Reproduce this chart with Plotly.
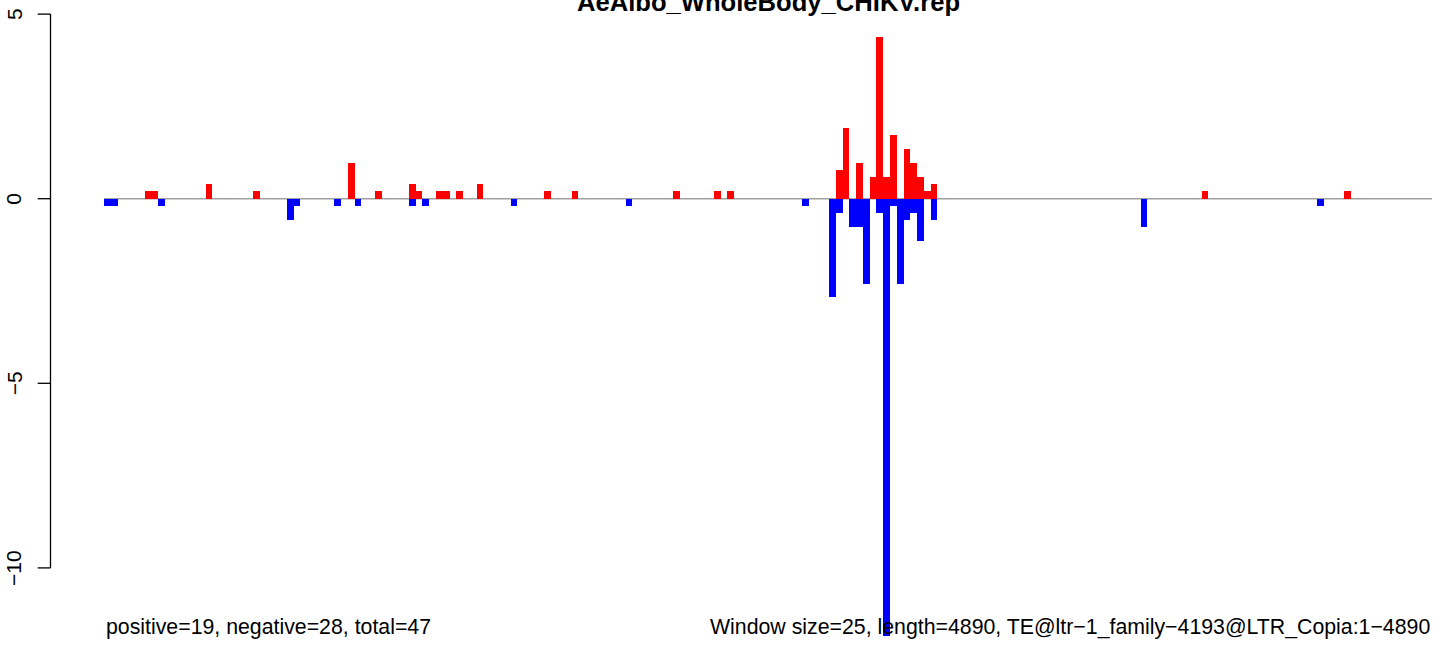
import plotly.graph_objects as go

# ---- data ----
title_text = "AeAlbo_WholeBody_CHIKV.rep"
n_windows = 196  # length 4890 / window 25

positive_bins = [6, 7, 15, 22, 36, 40, 45, 46, 49, 50, 52, 55, 65, 69, 84, 90, 92,
                 108, 109, 111, 113, 114, 115, 116, 118, 119, 120, 121, 122, 162, 183]
positive_values = [0.2, 0.2, 0.4, 0.2, 0.97, 0.2, 0.4, 0.2, 0.2, 0.2, 0.2, 0.4, 0.2, 0.2, 0.2, 0.2, 0.2,
                   0.78, 1.92, 0.97, 0.59, 4.39, 0.59, 1.73, 1.35, 0.97, 0.59, 0.21, 0.40, 0.2, 0.2]

negative_bins = [0, 1, 8, 27, 28, 34, 37, 45, 47, 60, 77, 103,
                 107, 108, 110, 111, 112, 114, 115, 116, 117, 118, 119, 120, 122, 153, 179]
negative_values = [-0.2, -0.2, -0.2, -0.57, -0.2, -0.2, -0.2, -0.2, -0.2, -0.2, -0.2, -0.2,
                   -2.67, -0.38, -0.76, -0.76, -2.30, -0.38, -11.84, -0.19, -2.30, -0.57, -0.38, -1.14,
                   -0.57, -0.76, -0.2]

y_ticks = [5, 0, -5, -10]
y_tick_labels = ["5", "0", "\u22125", "\u221210"]

left_note = "positive=19, negative=28, total=47"
right_note = "Window size=25, length=4890, TE@ltr\u22121_family\u22124193@LTR_Copia:1\u22124890"

# ---- layout geometry (pixels) ----
W, H = 1444, 646
plot_left, plot_right = 104, 1432
plot_w = plot_right - plot_left
px_per_unit = 36.92
zero_px = 198.7
y_top = zero_px / px_per_unit
y_bottom = -(H - zero_px) / px_per_unit

FONT = "Liberation Sans, Arial, Helvetica, sans-serif"


def xpaper(px):
    return (px - plot_left) / plot_w


def ypaper(py):
    return 1 - py / H


fig = go.Figure()
fig.add_trace(go.Bar(x=positive_bins, y=positive_values, width=1.0,
                     marker=dict(color="#FF0000", line=dict(width=0)), showlegend=False,
                     cliponaxis=False))
fig.add_trace(go.Bar(x=negative_bins, y=negative_values, width=1.0,
                     marker=dict(color="#0000FF", line=dict(width=0)), showlegend=False,
                     cliponaxis=False))

shapes = []
# zero line
shapes.append(dict(type="line", xref="paper", yref="y", x0=0, x1=1, y0=0, y1=0,
                   line=dict(color="#A0A0A0", width=1.5), layer="below"))
# y axis line and ticks (R style, offset from plot)
ax_x = xpaper(50.5)
tick_x = xpaper(37.7)
shapes.append(dict(type="line", xref="paper", yref="y", x0=ax_x, x1=ax_x,
                   y0=min(y_ticks), y1=max(y_ticks), line=dict(color="black", width=1.3)))
for t in y_ticks:
    shapes.append(dict(type="line", xref="paper", yref="y", x0=tick_x, x1=ax_x,
                       y0=t, y1=t, line=dict(color="black", width=1.3)))

annotations = []
for t, lab in zip(y_ticks, y_tick_labels):
    annotations.append(dict(x=xpaper(14), y=t, xref="paper", yref="y", text=lab,
                            textangle=-90, showarrow=False, xanchor="center", yanchor="middle",
                            font=dict(family=FONT, size=21, color="black")))
annotations.append(dict(x=xpaper(768), y=ypaper(2), xref="paper", yref="paper",
                        text="<b>" + title_text + "</b>", showarrow=False,
                        xanchor="center", yanchor="middle",
                        font=dict(family=FONT, size=25.6, color="black")))
annotations.append(dict(x=0, y=ypaper(627), xref="paper", yref="paper", text=left_note,
                        showarrow=False, xanchor="left", yanchor="middle",
                        bgcolor="rgba(0,0,0,0)",
                        font=dict(family=FONT, size=21.3, color="black")))
annotations.append(dict(x=1, y=ypaper(627), xref="paper", yref="paper", text=right_note,
                        showarrow=False, xanchor="right", yanchor="middle",
                        bgcolor="rgba(0,0,0,0)",
                        font=dict(family=FONT, size=21.3, color="black")))

fig.update_layout(
    width=W, height=H,
    margin=dict(l=plot_left, r=W - plot_right, t=0, b=0, pad=0),
    paper_bgcolor="white", plot_bgcolor="white",
    barmode="overlay", bargap=0,
    xaxis=dict(range=[-0.5, n_windows - 0.5], visible=False, fixedrange=True),
    yaxis=dict(range=[y_bottom, y_top], visible=False, fixedrange=True),
    shapes=shapes, annotations=annotations,
)

fig.write_html(
    "out.html",
    config={"displayModeBar": False},
    post_script="document.body.style.margin='0px';document.body.style.overflow='hidden';",
)
